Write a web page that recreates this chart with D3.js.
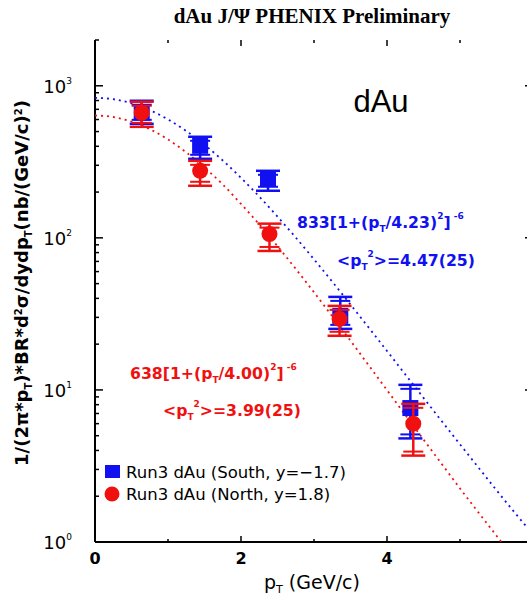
<!DOCTYPE html>
<html><head><meta charset="utf-8">
<script src="https://cdn.jsdelivr.net/npm/d3@7"></script>
<style>body{margin:0;background:#fff}svg{display:block}</style>
</head><body>
<script>
// ---- data ----
const southPt   = [0.64, 1.44, 2.37, 3.36, 4.32];
const southVal  = [667, 403, 244, 30.7, 7.6];
const southHi   = [797, 462, 276, 40.9, 10.8];
const southLo   = [562, 331, 204, 25.2, 4.8];
const northPt   = [0.64, 1.44, 2.39, 3.35, 4.36];
const northVal  = [665, 276, 106, 29.3, 6.0];
const northHi   = [785, 321, 124, 35.7, 8.1];
const northLo   = [537, 220, 82, 22.7, 3.7];
const fitPt     = [0,0.25,0.5,0.75,1,1.25,1.5,1.75,2,2.25,2.5,2.75,3,3.25,3.5,3.75,4,4.25,4.5,4.75,5,5.25,5.5,5.75,6];
const fitSouth  = [833,815.8,766.4,691.8,601.1,504.1,409.3,322.8,248.2,186.8,138.0,100.5,72.25,51.5,36.44,25.67,18.04,12.65,8.87,6.23,4.39,3.10,2.19,1.56,1.12];
const fitNorth  = [638,623.3,581.3,518.6,443.4,364.8,289.7,224.4,167.2,122.6,88.2,62.5,43.85,30.47,21.06,14.50,9.97,6.85,4.72,3.26,2.25,1.57,1.10,0.77,0.54];
const xTicks    = [0, 2, 4];
const yDecades  = [1, 10, 100, 1000];
const yExp      = ["0", "1", "2", "3"];

const W = 527, H = 595;
const BLUE = "#1010f0", RED = "#f01010";
const svg = d3.select("body").append("svg").attr("width", W).attr("height", H);

const x = d3.scaleLinear().domain([0, 6]).range([95, 533]);
const y = d3.scaleLog().domain([1, 2000]).range([542, 40]);

svg.append("defs").append("clipPath").attr("id","clip")
  .append("rect").attr("x",95).attr("y",40).attr("width",438).attr("height",502);

// title
svg.append("text").attr("x", 312).attr("y", 23).attr("text-anchor","middle")
  .attr("font-family","Liberation Serif").attr("font-weight","bold").attr("font-size",21)
  .text("dAu J/\u03A8  PHENIX Preliminary");

// axes
const ax = svg.append("g").attr("stroke","#000").attr("fill","none");
ax.append("line").attr("x1",95).attr("x2",95).attr("y1",40).attr("y2",542).attr("stroke-width",2);
ax.append("line").attr("x1",95).attr("x2",533).attr("y1",542).attr("y2",542).attr("stroke-width",2);
ax.append("line").attr("x1",533).attr("x2",533).attr("y1",40).attr("y2",542).attr("stroke-width",2);

// x ticks (inward)
[0,1,2,3,4,5].forEach(v => {
  const len = (v % 2 === 0) ? 6 : 3;
  ax.append("line").attr("x1",x(v)).attr("x2",x(v)).attr("y1",542).attr("y2",542-len).attr("stroke-width",1.5);
  ax.append("line").attr("x1",x(v)).attr("x2",x(v)).attr("y1",40).attr("y2",40+len).attr("stroke-width",1.5);
});
// y ticks
const minors = [];
yDecades.forEach(d => { for (let k = 1; k < 10; k++) { const v = d*k; if (v <= 2000) minors.push(v); } });
minors.forEach(v => {
  const major = yDecades.includes(v);
  const len = major ? 8 : 4;
  ax.append("line").attr("x1",95).attr("x2",95+len).attr("y1",y(v)).attr("y2",y(v)).attr("stroke-width",1.5);
  ax.append("line").attr("x1",533).attr("x2",533-len).attr("y1",y(v)).attr("y2",y(v)).attr("stroke-width",1.5);
});

// x tick labels
xTicks.forEach(v => {
  svg.append("text").attr("x", x(v)).attr("y", 564).attr("text-anchor","middle")
    .attr("font-family","DejaVu Sans").attr("font-weight","bold").attr("font-size",16).text(v);
});
// y tick labels
yDecades.forEach((d,i) => {
  const t = svg.append("text").attr("x", 72).attr("y", y(d)+7).attr("text-anchor","end")
    .attr("font-family","DejaVu Sans").attr("font-size",18);
  t.append("tspan").text("10");
  t.append("tspan").attr("dy",-9).attr("font-size",9).text(yExp[i]);
});

// axis titles
const xt = svg.append("text").attr("x", 312).attr("y", 589).attr("text-anchor","middle")
  .attr("font-family","DejaVu Sans").attr("font-size",19);
xt.append("tspan").text("p");
xt.append("tspan").attr("dy",4).attr("font-size",11).text("T");
xt.append("tspan").attr("dy",-4).text(" (GeV/c)");

const yt = svg.append("text").attr("transform","translate(28,283) rotate(-90)").attr("text-anchor","middle")
  .attr("font-family","DejaVu Sans").attr("font-weight","bold").attr("font-size",18);
yt.append("tspan").text("1/(2\u03C0*p");
yt.append("tspan").attr("dy",4).attr("font-size",10).text("T");
yt.append("tspan").attr("dy",-4).text(")*BR*d");
yt.append("tspan").attr("dy",-6).attr("font-size",10).text("2");
yt.append("tspan").attr("dy",6).text("\u03C3/dydp");
yt.append("tspan").attr("dy",4).attr("font-size",10).text("T");
yt.append("tspan").attr("dy",-4).text("(nb/(GeV/c)");
yt.append("tspan").attr("dy",-6).attr("font-size",10).text("2");
yt.append("tspan").attr("dy",6).text(")");

// fit curves
const line = d3.line().x(d => x(d[0])).y(d => y(d[1])).curve(d3.curveMonotoneX);
const plot = svg.append("g").attr("clip-path","url(#clip)");
plot.append("path").datum(fitPt.map((p,i)=>[p,fitSouth[i]])).attr("d",line)
  .attr("fill","none").attr("stroke",BLUE).attr("stroke-width",1.8).attr("stroke-dasharray","2,4");
plot.append("path").datum(fitPt.map((p,i)=>[p,fitNorth[i]])).attr("d",line)
  .attr("fill","none").attr("stroke",RED).attr("stroke-width",1.8).attr("stroke-dasharray","2,4");

// data points
function drawSeries(pts, vals, his, los, color, shape) {
  const g = svg.append("g");
  pts.forEach((p,i) => {
    const cx = x(p), cy = y(vals[i]), yh = y(his[i]), yl = y(los[i]);
    g.append("line").attr("x1",cx).attr("x2",cx).attr("y1",yh).attr("y2",yl).attr("stroke",color).attr("stroke-width",2.5);
    [[yh, 1],[yl, -1]].forEach(([yy, s]) => {
      g.append("line").attr("x1",cx-12).attr("x2",cx+12).attr("y1",yy).attr("y2",yy).attr("stroke",color).attr("stroke-width",2.5);
      g.append("line").attr("x1",cx-10).attr("x2",cx+10).attr("y1",yy+4*s).attr("y2",yy+4*s).attr("stroke",color).attr("stroke-width",2);
    });
    if (shape === "square") {
      g.append("rect").attr("x",cx-8).attr("y",cy-8).attr("width",16).attr("height",16).attr("fill",color);
    } else {
      g.append("circle").attr("cx",cx).attr("cy",cy).attr("r",8).attr("fill",color);
    }
  });
}
drawSeries(southPt, southVal, southHi, southLo, BLUE, "square");
drawSeries(northPt, northVal, northHi, northLo, RED, "circle");

// big label
svg.append("text").attr("x", 381).attr("y", 112).attr("text-anchor","middle")
  .attr("font-family","Liberation Sans").attr("font-size",31).text("dAu");

// fit annotations
function fitText(xx, yy, color, amp, par) {
  const t = svg.append("text").attr("x",xx).attr("y",yy).attr("fill",color)
    .attr("font-family","DejaVu Sans").attr("font-weight","bold").attr("font-size",15.7);
  t.append("tspan").text(amp + "[1+(p");
  t.append("tspan").attr("dy",4).attr("font-size",9).text("T");
  t.append("tspan").attr("dy",-4).text("/" + par + ")");
  t.append("tspan").attr("dy",-9).attr("font-size",9).text("2");
  t.append("tspan").attr("dy",9).text("]");
  t.append("tspan").attr("dy",-9).attr("font-size",9).text(" -6");
}
function meanText(xx, yy, color, val) {
  const t = svg.append("text").attr("x",xx).attr("y",yy).attr("fill",color)
    .attr("font-family","DejaVu Sans").attr("font-weight","bold").attr("font-size",15.7);
  t.append("tspan").text("<p");
  t.append("tspan").attr("dy",4).attr("font-size",9).text("T");
  t.append("tspan").attr("dy",-13).attr("font-size",9).text("2");
  t.append("tspan").attr("dy",9).text(">=" + val);
}
fitText(297, 228, BLUE, "833", "4.23");
meanText(337, 266, BLUE, "4.47(25)");
fitText(130, 379, RED, "638", "4.00");
meanText(163, 416, RED, "3.99(25)");

// legend
svg.append("rect").attr("x",105).attr("y",465).attr("width",15).attr("height",13).attr("fill",BLUE);
svg.append("circle").attr("cx",112).attr("cy",494).attr("r",7.5).attr("fill",RED);
svg.append("text").attr("x",126).attr("y",478).attr("font-family","DejaVu Sans").attr("font-size",16.5).text("Run3 dAu (South, y=\u22121.7)");
svg.append("text").attr("x",126).attr("y",500).attr("font-family","DejaVu Sans").attr("font-size",16.5).text("Run3 dAu (North, y=1.8)");
</script>
</body></html>
